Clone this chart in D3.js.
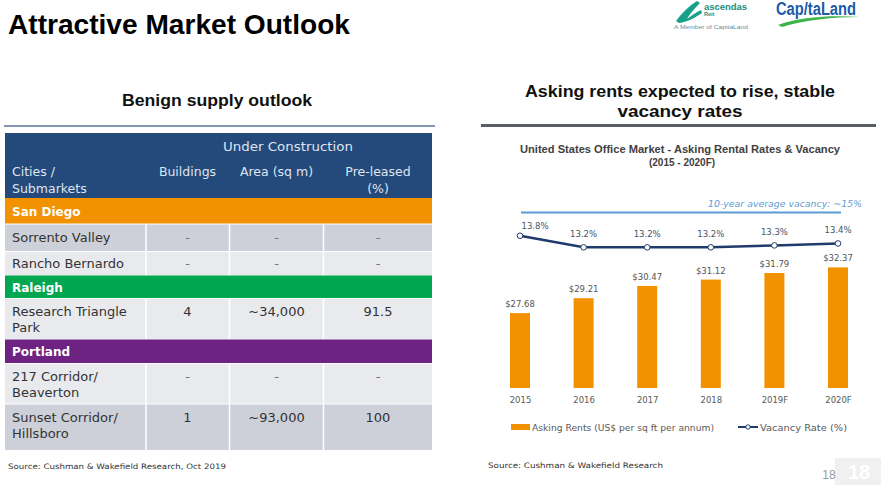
<!DOCTYPE html>
<html><head><meta charset="utf-8">
<script src="https://cdn.jsdelivr.net/npm/d3@7"></script>
<style>html,body{margin:0;padding:0;background:#fff;}svg{display:block;}</style>
</head><body>
<script>
// ---------- Data ----------
const years = ["2015","2016","2017","2018","2019F","2020F"];
const askingRents = [27.68, 29.21, 30.47, 31.12, 31.79, 32.37];
const vacancyRates = [13.8, 13.2, 13.2, 13.2, 13.3, 13.4];
const avgVacancy = 15;

const sectionNames = ["San Diego", "Raleigh", "Portland"];
const submarkets = [["Sorrento Valley"], ["Rancho Bernardo"], ["Research Triangle", "Park"], ["217 Corridor/", "Beaverton"], ["Sunset Corridor/", "Hillsboro"]];
const submarketSection = [0, 0, 1, 2, 2];
const buildings = ["-", "-", "4", "-", "1"];
const areaSqm = ["-", "-", "~34,000", "-", "~93,000"];
const preLeased = ["-", "-", "91.5", "-", "100"];
const columnHeaders = [["Cities /", "Submarkets"], ["Buildings"], ["Area (sq m)"], ["Pre-leased", "(%)"]];

// ---------- Layout / style ----------
const W = 881, H = 485;
const FONT = "'DejaVu Sans', sans-serif";
const BOLD = "'Liberation Sans', Arial, sans-serif";
const sectionFill = ["#f39200", "#00a650", "#6e2282"];
const sectionH = [26, 23, 24];
const dataH = [27.5, 24, 41, 40.5, 46];
const dataFill = ["#cdd0d8", "#e9eaee", "#e9eaee", "#e9eaee", "#cdd0d8"];

const svg = d3.select("body").append("svg").attr("width", W).attr("height", H);

// Title
svg.append("text").attr("x", 8).attr("y", 34).attr("font-family", BOLD).attr("font-weight", "bold")
  .attr("font-size", 28).attr("textLength", 342).attr("lengthAdjust", "spacingAndGlyphs").attr("fill", "#000")
  .text("Attractive Market Outlook");

// Logos (approximate)
const logo = svg.append("g");
logo.append("path").attr("d", "M676,21 C682,13 690,5 697,1 L700,3 C694,9 689,15 687,19 C692,15 697,12 701,10 L702,13 C696,17 688,22 679,23 Z")
  .attr("fill", "#17a08a");
logo.append("text").attr("x", 704).attr("y", 10).attr("font-family", BOLD).attr("font-weight", "bold").attr("font-size", 9)
  .attr("fill", "#17907e").attr("textLength", 43).attr("lengthAdjust", "spacingAndGlyphs").text("ascendas");
logo.append("text").attr("x", 704).attr("y", 16).attr("font-family", BOLD).attr("font-weight", "bold").attr("font-size", 5.5)
  .attr("fill", "#17907e").text("Reit");
logo.append("text").attr("x", 674).attr("y", 29).attr("font-family", BOLD).attr("font-size", 5)
  .attr("fill", "#6a8fa0").attr("textLength", 74).attr("lengthAdjust", "spacingAndGlyphs").text("A Member of CapitaLand");
logo.append("text").attr("x", 776).attr("y", 15).attr("font-family", BOLD).attr("font-weight", "bold").attr("font-size", 18)
  .attr("fill", "#1d5aa8").attr("textLength", 80).attr("lengthAdjust", "spacingAndGlyphs").text("Cap/taLand");
logo.append("path").attr("d", "M778,25 C800,17 830,15 860,17 C832,17 805,20 782,27 Z").attr("fill", "#3bb44a");

// Section headings
svg.append("text").attr("x", 217).attr("y", 106).attr("text-anchor", "middle").attr("font-family", BOLD)
  .attr("font-weight", "bold").attr("font-size", 16).attr("textLength", 190).attr("lengthAdjust", "spacingAndGlyphs")
  .attr("fill", "#111").text("Benign supply outlook");
svg.append("rect").attr("x", 4).attr("y", 125).attr("width", 431).attr("height", 2).attr("fill", "#8496ad");

svg.append("text").attr("x", 680).attr("y", 97).attr("text-anchor", "middle").attr("font-family", BOLD)
  .attr("font-weight", "bold").attr("font-size", 16).attr("textLength", 310).attr("lengthAdjust", "spacingAndGlyphs")
  .attr("fill", "#111").text("Asking rents expected to rise, stable");
svg.append("text").attr("x", 680).attr("y", 117).attr("text-anchor", "middle").attr("font-family", BOLD)
  .attr("font-weight", "bold").attr("font-size", 16).attr("textLength", 125).attr("lengthAdjust", "spacingAndGlyphs")
  .attr("fill", "#111").text("vacancy rates");
svg.append("rect").attr("x", 481).attr("y", 124).attr("width", 395).attr("height", 3).attr("fill", "#5a5f66");

// ---------- Table ----------
const tX0 = 5, tX1 = 432;
const colEdges = [tX0, 146, 229.5, 323.5, tX1];
const colCenters = [null, 187.5, 276.5, 378];
const table = svg.append("g");
const headerTop = 133, headerBot = 198;
table.append("rect").attr("x", tX0).attr("y", headerTop).attr("width", tX1 - tX0).attr("height", headerBot - headerTop).attr("fill", "#244a7c");
table.append("text").attr("x", 288).attr("y", 151).attr("text-anchor", "middle").attr("font-family", FONT)
  .attr("font-size", 12.5).attr("fill", "#dfe5ef").attr("textLength", 130).attr("lengthAdjust", "spacingAndGlyphs").text("Under Construction");
columnHeaders.forEach((lines, ci) => {
  lines.forEach((ln, li) => {
    table.append("text")
      .attr("x", ci === 0 ? 12 : colCenters[ci]).attr("y", 176 + li * 16.5)
      .attr("text-anchor", ci === 0 ? "start" : "middle")
      .attr("font-family", FONT).attr("font-size", 12.5).attr("fill", "#dfe5ef").text(ln);
  });
});

// build row sequence
let y = headerBot;
const seq = [];
let lastSec = -1;
submarkets.forEach((sm, i) => {
  const s = submarketSection[i];
  if (s !== lastSec) { seq.push({type: "section", s, y, h: sectionH[s]}); y += sectionH[s]; lastSec = s; }
  seq.push({type: "data", i, y, h: dataH[i]}); y += dataH[i];
});
seq.forEach(r => {
  if (r.type === "section") {
    table.append("rect").attr("x", tX0).attr("y", r.y).attr("width", tX1 - tX0).attr("height", r.h).attr("fill", sectionFill[r.s]);
    table.append("text").attr("x", 12).attr("y", r.y + r.h / 2 + 4.5).attr("font-family", FONT).attr("font-weight", "bold")
      .attr("font-size", 12).attr("fill", "#fff").text(sectionNames[r.s]);
  } else {
    const i = r.i;
    table.append("rect").attr("x", tX0).attr("y", r.y).attr("width", tX1 - tX0).attr("height", r.h).attr("fill", dataFill[i]);
    const lines = submarkets[i];
    const base = lines.length === 1 ? r.y + r.h / 2 + 4.5 : r.y + 17.5;
    lines.forEach((ln, li) => {
      table.append("text").attr("x", 12).attr("y", base + li * 16).attr("font-family", FONT)
        .attr("font-size", 13).attr("fill", "#333").text(ln);
    });
    [buildings[i], areaSqm[i], preLeased[i]].forEach((v, k) => {
      table.append("text").attr("x", colCenters[k + 1]).attr("y", base).attr("text-anchor", "middle")
        .attr("font-family", FONT).attr("font-size", 13).attr("fill", v === "-" ? "#777" : "#333").text(v);
    });
    // white separators
    [1, 2, 3].forEach(c => table.append("line").attr("x1", colEdges[c]).attr("x2", colEdges[c])
      .attr("y1", r.y).attr("y2", r.y + r.h).attr("stroke", "#fff").attr("stroke-width", 1.5));
    table.append("line").attr("x1", tX0).attr("x2", tX1).attr("y1", r.y).attr("y2", r.y).attr("stroke", "#fff").attr("stroke-width", 1);
  }
});

svg.append("text").attr("x", 8).attr("y", 469).attr("font-family", FONT).attr("font-size", 7.5).attr("fill", "#333")
  .attr("textLength", 218).attr("lengthAdjust", "spacingAndGlyphs").text("Source: Cushman & Wakefield Research, Oct 2019");

// ---------- Chart ----------
const chart = svg.append("g");
chart.append("text").attr("x", 680).attr("y", 153).attr("text-anchor", "middle").attr("font-family", BOLD)
  .attr("font-weight", "bold").attr("font-size", 10).attr("fill", "#404040").attr("textLength", 320)
  .attr("lengthAdjust", "spacingAndGlyphs").text("United States Office Market - Asking Rental Rates & Vacancy");
chart.append("text").attr("x", 682).attr("y", 166).attr("text-anchor", "middle").attr("font-family", BOLD)
  .attr("font-weight", "bold").attr("font-size", 10).attr("fill", "#404040").text("(2015 - 2020F)");

const x = d3.scalePoint().domain(years).range([520, 838]);
const yRent = d3.scaleLinear().domain([20, 34]).range([388, 251.5]);
const yVac = d3.scaleLinear().domain([10, 16]).range([309.1, 193.3]);
const barW = 20;

chart.selectAll("rect.bar").data(years).join("rect").attr("class", "bar")
  .attr("x", d => x(d) - barW / 2).attr("width", barW)
  .attr("y", (d, i) => yRent(askingRents[i])).attr("height", (d, i) => yRent(20) - yRent(askingRents[i]))
  .attr("fill", "#f39200");
chart.selectAll("text.rl").data(years).join("text").attr("class", "rl")
  .attr("x", d => x(d)).attr("y", (d, i) => yRent(askingRents[i]) - 6).attr("text-anchor", "middle")
  .attr("font-family", FONT).attr("font-size", 8.5).attr("fill", "#555").text((d, i) => "$" + askingRents[i].toFixed(2));

// x axis labels
const xAxis = d3.axisBottom(x).tickSize(0).tickPadding(0);
const gx = chart.append("g").attr("transform", "translate(0,397)").call(xAxis);
gx.select(".domain").remove();
gx.selectAll("text").attr("font-family", FONT).attr("font-size", 8.5).attr("fill", "#595959").attr("dy", "0.71em");

// 10-year average line
chart.append("line").attr("x1", 521).attr("x2", 841).attr("y1", yVac(avgVacancy)).attr("y2", yVac(avgVacancy))
  .attr("stroke", "#5b9bd5").attr("stroke-width", 2);
chart.append("text").attr("x", 862).attr("y", 207).attr("text-anchor", "end").attr("font-family", FONT)
  .attr("font-style", "italic").attr("font-size", 8.5).attr("fill", "#5b9bd5").attr("textLength", 154)
  .attr("lengthAdjust", "spacingAndGlyphs").text("10-year average vacancy: ~" + avgVacancy + "%");

// vacancy line
const line = d3.line().x((d, i) => x(years[i])).y(d => yVac(d));
chart.append("path").datum(vacancyRates).attr("d", line).attr("fill", "none").attr("stroke", "#1f3b6b").attr("stroke-width", 2.5);
chart.selectAll("circle.vp").data(vacancyRates).join("circle").attr("class", "vp")
  .attr("cx", (d, i) => x(years[i])).attr("cy", d => yVac(d)).attr("r", 2.8)
  .attr("fill", "#fff").attr("stroke", "#1f3b6b").attr("stroke-width", 1);
chart.selectAll("text.vl").data(vacancyRates).join("text").attr("class", "vl")
  .attr("x", (d, i) => x(years[i]) + (i === 0 ? 15 : 0)).attr("y", (d, i) => yVac(d) - (i === 0 ? 7 : 10))
  .attr("text-anchor", "middle").attr("font-family", FONT).attr("font-size", 8.5).attr("fill", "#44546a")
  .text(d => d.toFixed(1) + "%");

// legend
chart.append("rect").attr("x", 511).attr("y", 424).attr("width", 19).attr("height", 6).attr("fill", "#f39200");
chart.append("text").attr("x", 532).attr("y", 431).attr("font-family", FONT).attr("font-size", 8.5).attr("fill", "#595959")
  .attr("textLength", 182).attr("lengthAdjust", "spacingAndGlyphs").text("Asking Rents (US$ per sq ft per annum)");
chart.append("line").attr("x1", 738).attr("x2", 758).attr("y1", 427).attr("y2", 427).attr("stroke", "#1f3b6b").attr("stroke-width", 2);
chart.append("circle").attr("cx", 748).attr("cy", 427).attr("r", 2.2).attr("fill", "#fff").attr("stroke", "#1f3b6b").attr("stroke-width", 1);
chart.append("text").attr("x", 760).attr("y", 431).attr("font-family", FONT).attr("font-size", 8.5).attr("fill", "#595959")
  .attr("textLength", 87).attr("lengthAdjust", "spacingAndGlyphs").text("Vacancy Rate (%)");

svg.append("text").attr("x", 488).attr("y", 468).attr("font-family", FONT).attr("font-size", 7.5).attr("fill", "#333")
  .attr("textLength", 175).attr("lengthAdjust", "spacingAndGlyphs").text("Source: Cushman & Wakefield Research");

// page number
svg.append("rect").attr("x", 835).attr("y", 458).attr("width", 46).attr("height", 27).attr("fill", "#f0f0f0");
svg.append("text").attr("x", 859).attr("y", 479).attr("text-anchor", "middle").attr("font-family", BOLD)
  .attr("font-weight", "bold").attr("font-size", 20).attr("fill", "#fff").text("18");
svg.append("text").attr("x", 829).attr("y", 479).attr("text-anchor", "middle").attr("font-family", BOLD)
  .attr("font-size", 12).attr("fill", "#999").text("18");
</script>
</body></html>
